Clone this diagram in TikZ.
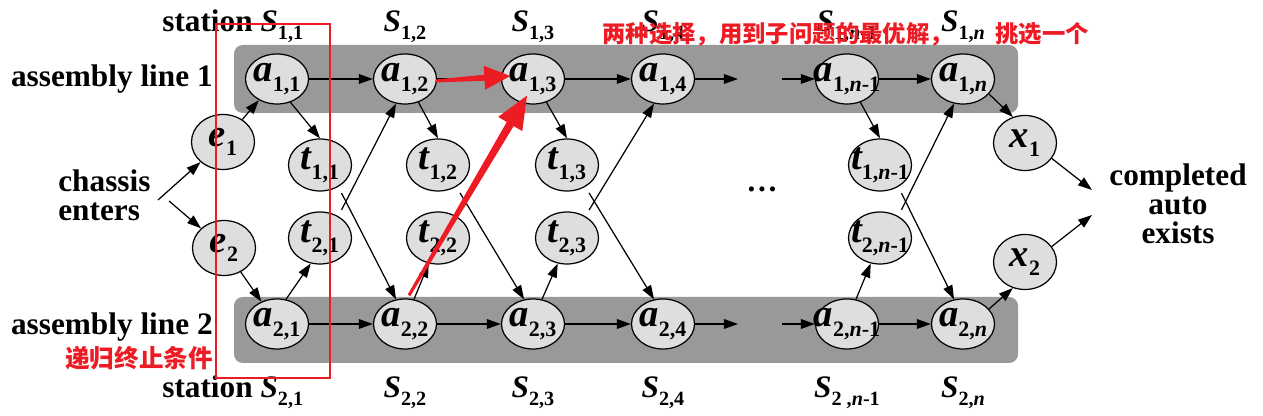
\documentclass[tikz,border=0pt]{standalone}
\usepackage{fontspec}
\setmainfont{Liberation Serif}
\newfontfamily\cjk{Noto Sans CJK SC}
\usetikzlibrary{shapes.geometric, arrows.meta, calc}
\definecolor{band_gray}{HTML}{999999}
\definecolor{node_gray}{HTML}{DEDEDE}
\definecolor{mark_red}{HTML}{ED1C24}
\tikzstyle{station_node}=[ellipse,
                          draw=black,
                          line width=0.7pt,
                          fill=node_gray,
                          inner sep=0pt,
                          minimum width=1.26cm,
                          minimum height=1.0cm]
\tikzstyle{line_band}=[fill=band_gray, rounded corners=5pt]
\tikzstyle{flow}=[line width=0.7pt, -{Triangle[length=8pt, width=5.5pt]}]
\tikzstyle{big_label}=[inner sep=0pt, font=\fontsize{17.8}{16.5}\selectfont\bfseries]
\tikzstyle{red_note}=[inner sep=0pt, text=mark_red, font=\cjk\bfseries\fontsize{13.3}{13.3}\selectfont]

\newcommand{\nd}[2]{\makebox[0pt]{\fontsize{22}{22}\selectfont\bfseries\itshape #1\raisebox{-5.5pt}{\fontsize{12.5}{12.5}\selectfont\upshape #2}}}
\newcommand{\stn}[1]{\textit{S}\raisebox{-4.5pt}{\fontsize{11.5}{11}\selectfont #1}}
\newcommand{\redarrow}[5]{%
    \coordinate (RS) at #1;
    \coordinate (RT) at #2;
    \coordinate (RB) at ($(RT)!#3!(RS)$);
    \fill[mark_red] ($(RS)!0.03cm!90:(RT)$) -- ($(RB)!#5!90:(RT)$) -- ($(RB)!#4!90:(RT)$) -- (RT)
        -- ($(RB)!#4!-90:(RT)$) -- ($(RB)!#5!-90:(RT)$) -- ($(RS)!0.03cm!-90:(RT)$) -- cycle;
}

\begin{document}
\begin{tikzpicture}
    \useasboundingbox (0cm, 0cm) rectangle (25.26cm, 8.32cm);

    \fill[line_band] (4.68cm, 6.06cm) rectangle (20.36cm, 7.42cm);
    \fill[line_band] (4.68cm, 1.06cm) rectangle (20.36cm, 2.38cm);

    \node at (4.26cm, 6.73cm) (L1) [big_label, anchor=east] {assembly line 1};
    \node at (4.26cm, 1.78cm) (L2) [big_label, anchor=east] {assembly line 2};
    \node at (1.16cm, 4.41cm) (IN) [big_label, align=left, anchor=west] {chassis\\enters};
    \node at (23.56cm, 4.25cm) (OUT) [big_label, align=center] {completed\\auto\\exists};
    \node at (15.24cm, 4.48cm) (DOTS) [big_label, anchor=base] {\ldots};

    \node at (3.24cm, 7.68cm) (S11) [big_label, anchor=base west] {station \stn{1,1}};
    \node at (3.24cm, 0.36cm) (S21) [big_label, anchor=base west] {station \stn{2,1}};
    \foreach \i/\x/\s/\t in {2/8.10/2/{,2}, 3/10.66/3/{,3}, 4/13.26/4/{,4}, m/16.94/{\textit{n}-1}/{ ,\textit{n}-1}, n/19.26/{\textit{n}}/{,\textit{n}}} {
        \node at (\x cm, 7.68cm) (S1\i) [big_label, anchor=base] {\stn{1,\s}};
        \node at (\x cm, 0.36cm) (S2\i) [big_label, anchor=base] {\stn{2\t}};
    }

    \foreach \i/\x/\s in {1/5.54/1, 2/8.10/2, 3/10.66/3, 4/13.26/4, m/16.94/{\textit{n}-1}, n/19.26/{\textit{n}}} {
        \node at (\x cm, 6.74cm) (A1\i) [station_node] {\nd{a}{1,\s}};
        \node at (\x cm, 1.84cm) (A2\i) [station_node] {\nd{a}{2,\s}};
    }
    \foreach \i/\x/\s in {1/6.40/1, 2/8.76/2, 3/11.34/3, m/17.60/{\textit{n}-1}} {
        \node at (\x cm, 5.02cm) (T1\i) [station_node, minimum height=1.04cm] {\nd{t}{1,\s}};
        \node at (\x cm, 3.56cm) (T2\i) [station_node, minimum height=1.04cm] {\nd{t}{2,\s}};
    }

    \node at (4.46cm, 5.48cm) (E1) [station_node, minimum height=1.1cm] {\nd{e}{1}};
    \node at (4.48cm, 3.36cm) (E2) [station_node, minimum height=1.1cm] {\nd{e}{2}};
    \node at (20.50cm, 5.46cm) (X1) [station_node, minimum height=1.1cm] {\nd{x}{1}};
    \node at (20.50cm, 3.08cm) (X2) [station_node, minimum height=1.1cm] {\nd{x}{2}};

    \coordinate (C1) at (3.16cm, 4.32cm);
    \coordinate (C2) at (3.38cm, 4.30cm);
    \coordinate (D1) at (21.84cm, 4.52cm);
    \coordinate (D2) at (21.84cm, 4.02cm);
    \coordinate (G1E) at (14.76cm, 6.74cm);
    \coordinate (G1S) at (15.64cm, 6.74cm);
    \coordinate (G2E) at (14.76cm, 1.84cm);
    \coordinate (G2S) at (15.64cm, 1.84cm);

    \draw[flow] (C1) -- (E1);
    \draw[flow] (C2) -- (E2);
    \draw[flow] (E1) -- (A11);
    \draw[flow] (E2) -- (A21);

    \foreach \i/\j in {1/2, 2/3, 3/4, m/n} {
        \draw[flow] (A1\i) -- (A1\j);
        \draw[flow] (A2\i) -- (A2\j);
        \draw[flow] (A1\i.-60) -- (T1\i.north);
        \draw[flow] (A2\i.70) -- (T2\i.-110);
        \draw[flow, shorten <=4pt] (T1\i.-50) -- (A2\j.110);
        \draw[flow, shorten <=4pt] (T2\i.50) -- (A1\j.-110);
    }
    \draw[flow] (A14) -- (G1E);
    \draw[flow] (G1S) -- (A1m);
    \draw[flow] (A24) -- (G2E);
    \draw[flow] (G2S) -- (A2m);

    \draw[flow] (A1n.-30) -- (X1.115);
    \draw[flow] (A2n.30) -- (X2.-115);
    \draw[flow] (X1.-30) -- (D1);
    \draw[flow] (X2.30) -- (D2);

    \draw[mark_red, line width=1.4pt] (4.32cm, 0.76cm) rectangle (6.60cm, 7.84cm);
    \redarrow{($(A12.east)+(-0.03cm,-0.04cm)$)}{($(A13.west)+(0.19cm,0.06cm)$)}{0.52cm}{0.24cm}{0.06cm}
    \redarrow{($(A22.north)+(0.08cm,0.06cm)$)}{($(A13.south)+(-0.12cm,0.18cm)$)}{0.66cm}{0.28cm}{0.08cm}

    \node at (12.04cm, 7.64cm) (N1) [red_note, anchor=west] {两种选择，用到子问题的最优解，};
    \node at (19.90cm, 7.64cm) (N2) [red_note, anchor=west] {挑选一个};
    \node at (2.78cm, 1.16cm) (N3) [red_note, font=\cjk\bfseries\fontsize{14}{14}\selectfont] {递归终止条件};
\end{tikzpicture}
\end{document}
